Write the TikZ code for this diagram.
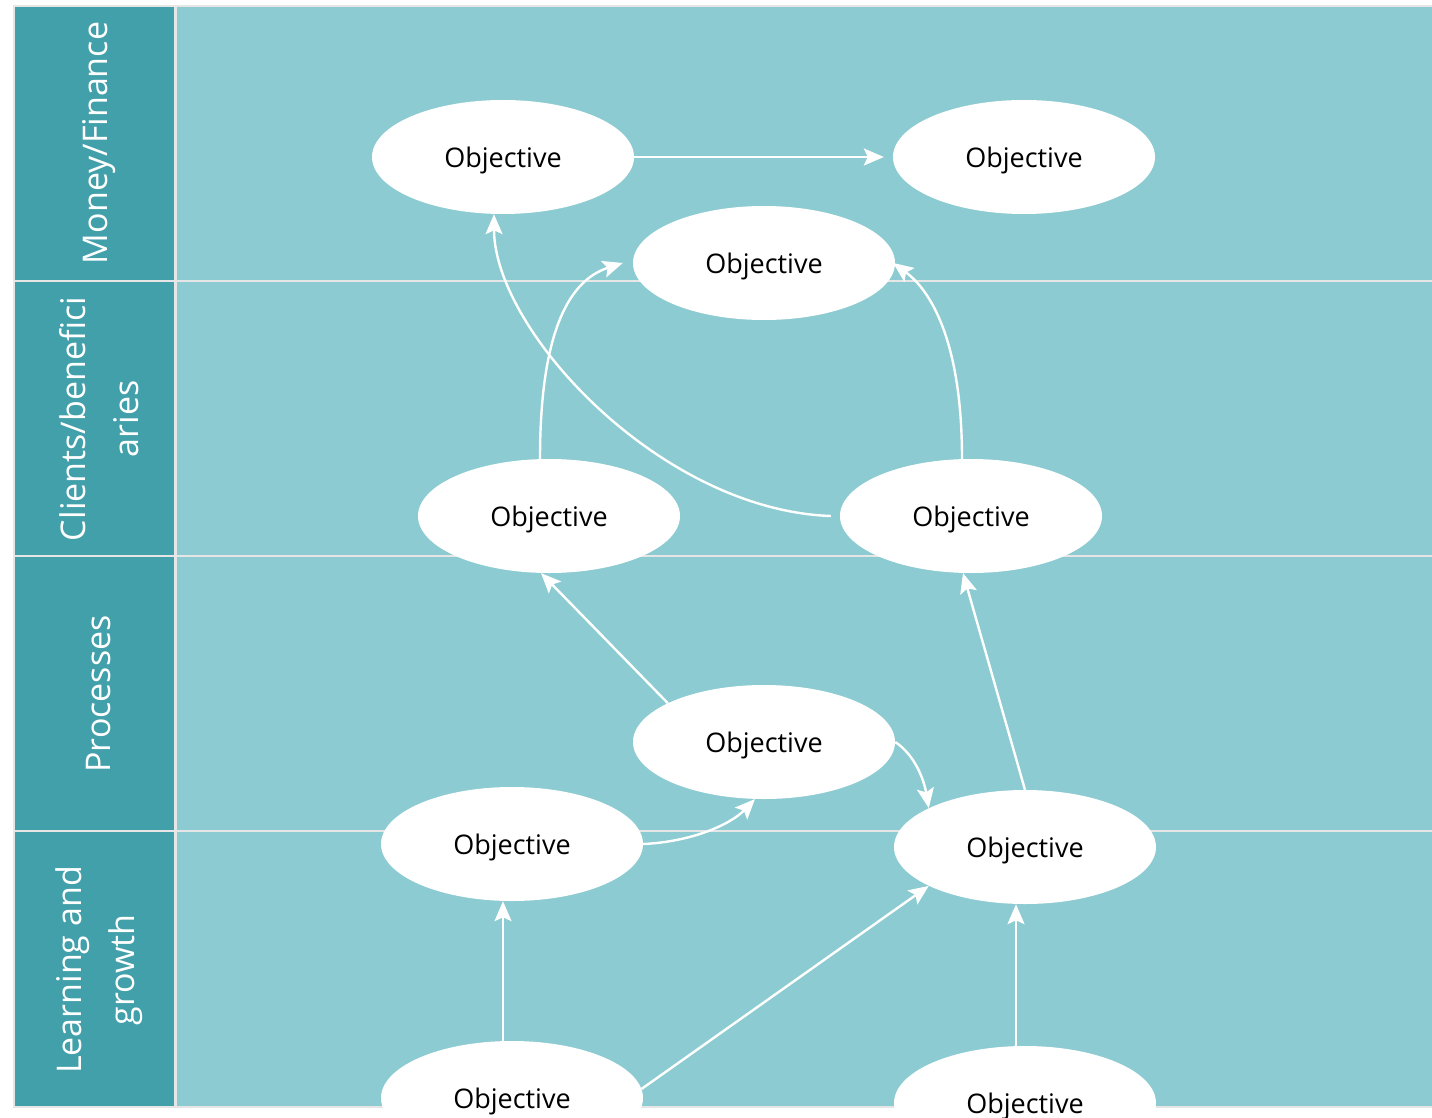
\documentclass[tikz,border=0pt]{standalone}
\usepackage{fontspec}
\setmainfont{Open Sans}
\usetikzlibrary{shapes.geometric,arrows.meta}
\definecolor{darkteal}{HTML}{42A0AA}
\definecolor{lightteal}{HTML}{8BCBD1}
\definecolor{framegrey}{HTML}{E6E6E6}
\tikzset{
  obj/.style={ellipse, fill=white, minimum width=262pt, minimum height=114pt, inner sep=0pt,
    text depth=0pt, font=\fontsize{27}{30}\selectfont, text=black},
  lab/.style={rotate=90, text=white, align=center, font=\fontsize{34}{53}\selectfont},
  arr/.style={draw=white, line width=2.4pt, -{Stealth[length=20pt,width=17pt,inset=4pt]}},
  cellL/.style={fill=darkteal},
  cellR/.style={fill=lightteal}
}
\begin{document}
\begin{tikzpicture}[x=1pt,y=-1pt]
\useasboundingbox (0,0) rectangle (1432,1118);
\clip (0,0) rectangle (1432,1118);
\fill[white] (0,0) rectangle (1432,1118);
\fill[framegrey] (13,5) rectangle (1440,1108);
% cells
\foreach \t/\b in {7/280, 282/555, 557/830, 832/1106}{
  \fill[cellL] (15,\t) rectangle (174,\b);
  \fill[cellR] (177,\t) rectangle (1440,\b);
}
% row labels
\node[lab] (lm) at (99,143) {Money/Finance};
\node[lab] (lc) at (99,419) {Clients/benefici\\aries};
\node[lab] (lp) at (99,694) {Processes};
\node[lab] (ll) at (99,970) {Learning and\\growth};
% objectives
\node[obj] (F1) at (503,157) {Objective};
\node[obj] (F2) at (1024,157) {Objective};
\node[obj] (F3) at (764,263) {Objective};
\node[obj] (C1) at (549,516) {Objective};
\node[obj] (C2) at (971,516) {Objective};
\node[obj] (P1) at (764,742) {Objective};
\node[obj] (L1) at (512,844) {Objective};
\node[obj] (P2) at (1025,847) {Objective};
\node[obj] (B1) at (512,1098) {Objective};
\node[obj] (B2) at (1025,1103) {Objective};
% connectors
\draw[arr, shorten >=9pt] (F1.east) -- (F2.west);
\draw[arr] ([xshift=-9pt]C2.west) .. controls (660,510) and (494,330) .. ([xshift=-9pt]F1.south);
\draw[arr] ([xshift=-9pt]C1.north) .. controls (540,330) and (570,280) .. ([xshift=-10pt]F3.west);
\draw[arr] ([xshift=-9pt]C2.north) .. controls (962,340) and (930,290) .. ([xshift=-2pt]F3.east);
\draw[arr] (P1.158) -- (C1.262);
\draw[arr] (P2.north) -- (C2.262);
\draw[arr] (P1.east) .. controls (915,755) and (924,780) .. (P2.158);
\draw[arr] (L1.east) .. controls (690,842) and (730,825) .. (P1.261);
\draw[arr] ([xshift=-9pt]B1.north) -- ([xshift=-9pt]L1.south);
\draw[arr] (B1.4) -- (P2.202);
\draw[arr] ([xshift=-9pt]B2.north) -- ([xshift=-9pt]P2.south);
\end{tikzpicture}
\end{document}
